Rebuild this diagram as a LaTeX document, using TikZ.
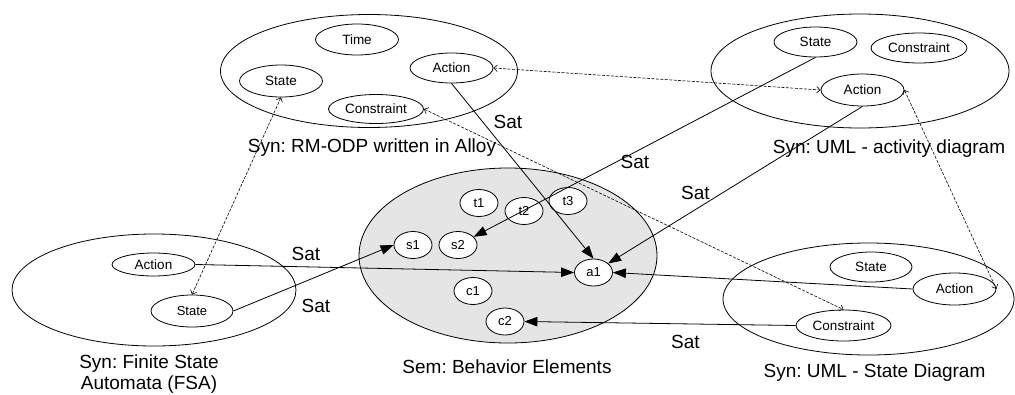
\documentclass[tikz,border=0pt]{standalone}
\usepackage{fontspec}
\setmainfont{Liberation Sans}
\usetikzlibrary{shapes.geometric,arrows.meta}
\frenchspacing
\begin{document}
\begin{tikzpicture}[x=1pt,y=-1pt,
 big/.style={draw, ellipse, line width=0.8pt, inner sep=0pt},
 elem/.style={draw, ellipse, fill=white, line width=0.8pt, inner sep=0pt, font=\fontsize{13.5}{15}\selectfont},
 circ/.style={draw, ellipse, fill=white, line width=0.8pt, inner sep=0pt, minimum width=38pt, minimum height=27pt, font=\fontsize{13}{15}\selectfont},
 captext/.style={font=\fontsize{19}{22}\selectfont, anchor=base, inner sep=0pt},
 sat/.style={font=\fontsize{19}{22}\selectfont, anchor=base, inner sep=0pt},
 satarrow/.style={line width=0.8pt, -{Triangle[length=13pt,width=9.5pt]}},
 corr/.style={line width=0.6pt, dash pattern=on 3pt off 1.5pt, {Straight Barb[length=3.5pt,width=6.5pt]}-{Straight Barb[length=3.5pt,width=6.5pt]}}
]
\useasboundingbox (0,0) rectangle (1015,394);

% Syn: RM-ODP written in Alloy
\node[big, minimum width=297pt, minimum height=113pt] (rm) at (369,71) {};
\node[elem, minimum width=83pt, minimum height=31pt] (tlt) at (357,39.5) {Time};
\node[elem, minimum width=83pt, minimum height=32pt] (tls) at (281,81) {State};
\node[elem, minimum width=83pt, minimum height=30pt] (tla) at (451.5,68) {Action};
\node[elem, minimum width=95pt, minimum height=29pt] (tlc) at (376,109) {Constraint};
\node[captext] (rmlab) at (372,152.7) {Syn: RM-ODP written in Alloy};

% Syn: UML - activity diagram
\node[big, minimum width=298pt, minimum height=114pt] (act) at (860,71) {};
\node[elem, minimum width=83pt, minimum height=30pt] (trs) at (815.5,42) {State};
\node[elem, minimum width=96pt, minimum height=30pt] (trc) at (919,48) {Constraint};
\node[elem, minimum width=83pt, minimum height=32pt] (tra) at (862.5,90) {Action};
\node[captext] (actlab) at (889,153) {Syn: UML - activity diagram};

% Syn: Finite State Automata
\node[big, minimum width=284pt, minimum height=112pt] (fsa) at (154,290) {};
\node[elem, minimum width=83pt, minimum height=23pt] (fa) at (153.5,264.5) {Action};
\node[elem, minimum width=82pt, minimum height=32pt, font=\fontsize{13}{15}\selectfont] (fs) at (192,311) {State};
\node[captext] (fsalab1) at (149,368) {Syn: Finite State};
\node[captext] (fsalab2) at (149,389) {Automata (FSA)};

% Sem: Behavior Elements
\node[big, fill={rgb,255:red,229;green,229;blue,229}, minimum width=298pt, minimum height=175pt] (sem) at (508,255.5) {};
\node[circ] (t1) at (479,203) {t1};
\node[circ] (t2) at (524,211) {t2};
\node[circ] (t3) at (568,201) {t3};
\node[circ] (s1) at (413,245) {s1};
\node[circ] (s2) at (458,245) {s2};
\node[circ] (a1) at (593.5,272.5) {a1};
\node[circ] (c1) at (473,291) {c1};
\node[circ] (c2) at (505,321.5) {c2};
\node[captext] (semlab) at (507,373) {Sem: Behavior Elements};

% Syn: UML - State Diagram
\node[big, minimum width=291pt, minimum height=112pt] (std) at (868.5,299) {};
\node[elem, minimum width=82pt, minimum height=30pt] (brs) at (871,267) {State};
\node[elem, minimum width=83pt, minimum height=32pt] (bra) at (954.5,289) {Action};
\node[elem, minimum width=95pt, minimum height=31pt] (brc) at (843.5,325.5) {Constraint};
\node[captext] (stdlab) at (874.5,377) {Syn: UML - State Diagram};

% Sat connectors
\draw[satarrow] (fa.east) -- (a1.west);
\draw[satarrow] (fs.east) -- (s1.west);
\draw[satarrow] (tla.south) -- (a1.north);
\draw[satarrow] (trs.south) -- (s2);
\draw[satarrow] (tra.south) -- (a1);
\draw[satarrow] (bra.west) -- (a1.east);
\draw[satarrow] (brc.west) -- (c2.east);

% correspondences
\draw[corr] (tls.south) -- (fs.north);
\draw[corr] (tla.east) -- (tra.west);
\draw[corr] (tlc.east) -- (brc.north);
\draw[corr] (tra.east) -- (bra.east);

% Sat labels
\node[sat] (sat1) at (508,128.3) {Sat};
\node[sat] (sat2) at (635,168) {Sat};
\node[sat] (sat3) at (695.5,199) {Sat};
\node[sat] (sat4) at (306,260) {Sat};
\node[sat] (sat5) at (316,312) {Sat};
\node[sat] (sat6) at (685.5,348) {Sat};
\end{tikzpicture}
\end{document}
